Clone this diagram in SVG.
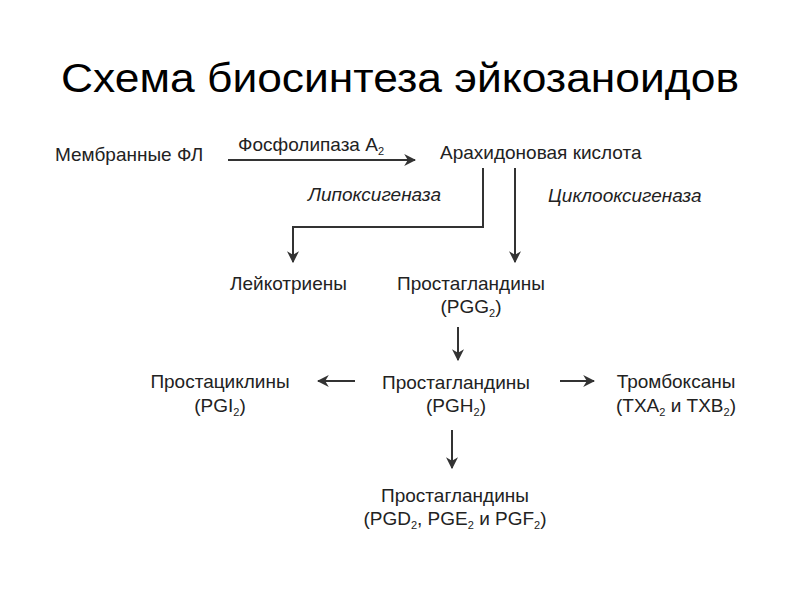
<svg xmlns="http://www.w3.org/2000/svg" width="800" height="600" viewBox="0 0 800 600">
<defs>
<style>
text{font-family:"Liberation Sans",Arial,sans-serif;fill:#222;font-size:19px}
.t{font-size:40px;fill:#000}
.i{font-style:italic}
.c{text-anchor:middle}
.s{font-size:11px}
.l{stroke:#333;stroke-width:2;fill:none}
</style>
<marker id="a" viewBox="0 0 10 10" refX="9" refY="5" markerWidth="6" markerHeight="6" orient="auto"><path d="M0,0L10,5L0,10L3,5Z" fill="#333"/></marker>
</defs>
<rect width="800" height="600" fill="#fff"/>
<text class="t c" x="400" y="92" textLength="678" lengthAdjust="spacingAndGlyphs">Схема биосинтеза эйкозаноидов</text>
<g id="connectors">
<path class="l" d="M228,160H415" marker-end="url(#a)"/>
<path class="l" d="M483,168V227H293V262" marker-end="url(#a)"/>
<path class="l" d="M515,168V262" marker-end="url(#a)"/>
<path class="l" d="M458,327V360" marker-end="url(#a)"/>
<path class="l" d="M355,381H318" marker-end="url(#a)"/>
<path class="l" d="M560,381H594" marker-end="url(#a)"/>
<path class="l" d="M452,430V468" marker-end="url(#a)"/>
</g>
<g id="labels">
<text x="238" y="151">Фосфолипаза A<tspan class="s" dy="4">2</tspan></text>
<text class="i" x="308" y="201">Липоксигеназа</text>
<text class="i" x="548" y="202">Циклооксигеназа</text>
</g>
<g id="membrane"><text x="55" y="161">Мембранные ФЛ</text></g>
<g id="arachidonic"><text x="440" y="159">Арахидоновая кислота</text></g>
<g id="leukotrienes"><text x="230" y="290">Лейкотриены</text></g>
<g id="pgg2"><text class="c" x="471" y="290">Простагландины</text><text class="c" x="471" y="313">(PGG<tspan class="s" dy="4">2</tspan><tspan dy="-4">)</tspan></text></g>
<g id="pgh2"><text class="c" x="456" y="389">Простагландины</text><text class="c" x="456" y="412">(PGH<tspan class="s" dy="4">2</tspan><tspan dy="-4">)</tspan></text></g>
<g id="pgi2"><text class="c" x="220" y="388">Простациклины</text><text class="c" x="220" y="412">(PGI<tspan class="s" dy="4">2</tspan><tspan dy="-4">)</tspan></text></g>
<g id="tx"><text class="c" x="676" y="388">Тромбоксаны</text><text class="c" x="676" y="412">(TXA<tspan class="s" dy="4">2</tspan><tspan dy="-4"> и TXB</tspan><tspan class="s" dy="4">2</tspan><tspan dy="-4">)</tspan></text></g>
<g id="pgd"><text class="c" x="455" y="502">Простагландины</text><text class="c" x="455" y="525">(PGD<tspan class="s" dy="4">2</tspan><tspan dy="-4">, PGE</tspan><tspan class="s" dy="4">2</tspan><tspan dy="-4"> и PGF</tspan><tspan class="s" dy="4">2</tspan><tspan dy="-4">)</tspan></text></g>
</svg>
